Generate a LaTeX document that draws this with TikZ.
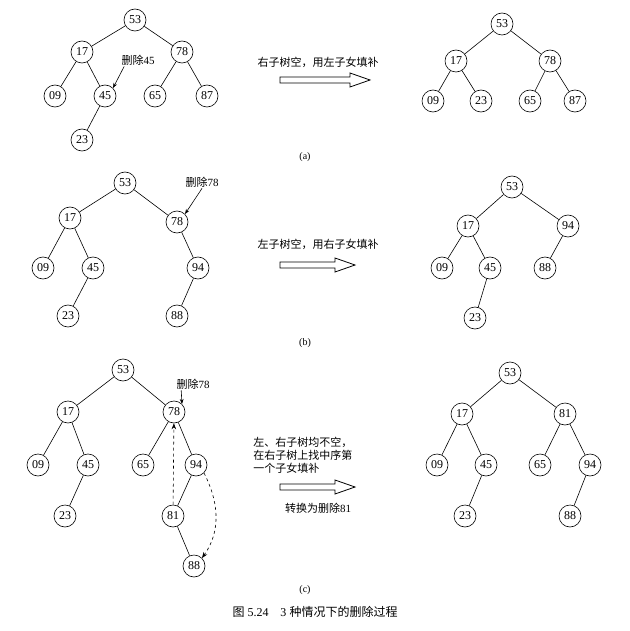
\documentclass[tikz,border=0pt]{standalone}
\usepackage{fontspec}
\setmainfont{Liberation Serif}
\newfontfamily\cjk{Noto Sans CJK SC}
\usetikzlibrary{arrows.meta}
\tikzset{
  key/.style={circle, draw, inner sep=0pt, minimum size=22pt, font=\fontsize{12}{12}\selectfont},
  note/.style={font=\cjk\fontsize{11}{13}\selectfont, inner sep=1pt},
  dash arrow/.style={dashed, -{Stealth[length=6pt]}},
  pics/fill arrow/.style={code={
    \draw[line width=0.8pt] (0,-3) -- (#1-20,-3) -- (#1-20,-7) -- (#1,0) -- (#1-20,7) -- (#1-20,3) -- (0,3) -- cycle;
  }}
}
\begin{document}
\begin{tikzpicture}[x=1pt, y=-1pt, line width=0.6pt]
\useasboundingbox (0,0) rectangle (629,631);
% (a)
\node[key] (a53) at (135,20) {53};
\node[key] (a17) at (82,52) {17};
\node[key] (a78) at (182,52) {78};
\node[key] (a09) at (55,96) {09};
\node[key] (a45) at (105,96) {45};
\node[key] (a65) at (155,96) {65};
\node[key] (a87) at (207,96) {87};
\node[key] (a23) at (82,140) {23};
\draw (a53) -- (a17) (a53) -- (a78) (a17) -- (a09) (a17) -- (a45)
      (a78) -- (a65) (a78) -- (a87) (a45) -- (a23);
\node[note] (da) at (138,60) {删除{\rmfamily 45}};
\draw[-{Stealth[length=5pt]}] (da.south west) ++(4,0) -- (a45.north east);
\node[note] (ta) at (318,62) {右子树空，用左子女填补};
\pic at (280,80) {fill arrow=90};
\node[key] (b53) at (502,24) {53};
\node[key] (b17) at (456,61) {17};
\node[key] (b78) at (550,61) {78};
\node[key] (b09) at (433,101) {09};
\node[key] (b23) at (481,101) {23};
\node[key] (b65) at (530,101) {65};
\node[key] (b87) at (575,101) {87};
\draw (b53) -- (b17) (b53) -- (b78) (b17) -- (b09) (b17) -- (b23)
      (b78) -- (b65) (b78) -- (b87);
\node (la) at (305,157) {(a)};
% (b)
\node[key] (c53) at (125,183) {53};
\node[key] (c17) at (70,218) {17};
\node[key] (c78) at (177,222) {78};
\node[key] (c09) at (43,268) {09};
\node[key] (c45) at (93,268) {45};
\node[key] (c94) at (198,268) {94};
\node[key] (c23) at (68,316) {23};
\node[key] (c88) at (177,316) {88};
\draw (c53) -- (c17) (c53) -- (c78) (c17) -- (c09) (c17) -- (c45)
      (c45) -- (c23) (c78) -- (c94) (c94) -- (c88);
\node[note] (db) at (202,182) {删除{\rmfamily 78}};
\draw[-{Stealth[length=5pt]}] (db.south) -- (c78.north east);
\node[note] (tb) at (318,244) {左子树空，用右子女填补};
\pic at (280,265) {fill arrow=75};
\node[key] (d53) at (512,187) {53};
\node[key] (d17) at (468,226) {17};
\node[key] (d94) at (568,226) {94};
\node[key] (d09) at (442,268) {09};
\node[key] (d45) at (490,268) {45};
\node[key] (d88) at (545,268) {88};
\node[key] (d23) at (475,318) {23};
\draw (d53) -- (d17) (d53) -- (d94) (d17) -- (d09) (d17) -- (d45)
      (d45) -- (d23) (d94) -- (d88);
\node (lb) at (305,343) {(b)};
% (c)
\node[key] (e53) at (123,370) {53};
\node[key] (e17) at (68,412) {17};
\node[key] (e78) at (174,412) {78};
\node[key] (e09) at (38,465) {09};
\node[key] (e45) at (88,465) {45};
\node[key] (e65) at (143,465) {65};
\node[key] (e94) at (196,465) {94};
\node[key] (e23) at (65,516) {23};
\node[key] (e81) at (173,516) {81};
\node[key] (e88) at (194,566) {88};
\draw (e53) -- (e17) (e53) -- (e78) (e17) -- (e09) (e17) -- (e45)
      (e45) -- (e23) (e78) -- (e65) (e78) -- (e94) (e94) -- (e81) (e81) -- (e88);
\draw[dash arrow] (e81) -- (e78);
\draw[dash arrow] (e94.south east) .. controls (218,500) and (222,530) .. (e88.north east);
\node[note] (dc) at (193,384) {删除{\rmfamily 78}};
\draw[-{Stealth[length=5pt]}] (dc.south west) ++(6,0) -- (e78.north east);
\node[note, align=left, anchor=west] (tc) at (252,455) {左、右子树均不空，\\在右子树上找中序第\\一个子女填补};
\pic at (280,487) {fill arrow=75};
\node[note] (sc) at (318,508) {转换为删除{\rmfamily 81}};
\node[key] (f53) at (510,373) {53};
\node[key] (f17) at (462,414) {17};
\node[key] (f81) at (565,414) {81};
\node[key] (f09) at (437,465) {09};
\node[key] (f45) at (486,465) {45};
\node[key] (f65) at (540,465) {65};
\node[key] (f94) at (590,465) {94};
\node[key] (f23) at (465,516) {23};
\node[key] (f88) at (570,516) {88};
\draw (f53) -- (f17) (f53) -- (f81) (f17) -- (f09) (f17) -- (f45)
      (f45) -- (f23) (f81) -- (f65) (f81) -- (f94) (f94) -- (f88);
\node (lc) at (305,590) {(c)};
\node[font=\fontsize{12}{14}\selectfont] (cap) at (315,612) {{\cjk 图} 5.24\quad 3 {\cjk 种情况下的删除过程}};
\end{tikzpicture}
\end{document}
